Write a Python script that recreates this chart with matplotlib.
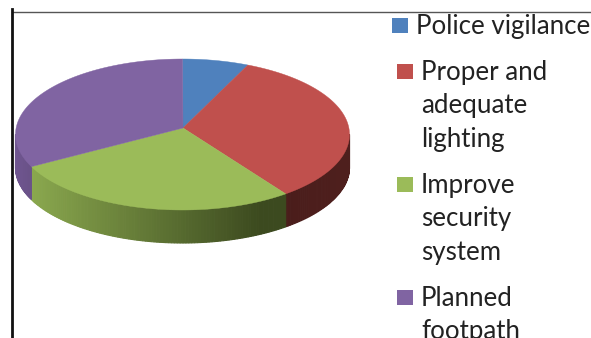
"""3D style pie chart with a hand placed legend."""
import matplotlib
matplotlib.use("Agg")
import matplotlib.pyplot as plt
import numpy as np
from matplotlib.patches import Rectangle

labels = ["Police vigilance", "Proper and\nadequate\nlighting", "Improve\nsecurity\nsystem", "Planned\nfootpath"]
values = [6.4, 33.0, 28.6, 32.0]
top_colors = ["#4f81bd", "#c0504d", "#9bbb59", "#8064a2"]
side_left = ["#4f81bd", "#4a1d1b", "#8aa84e", "#6f5590"]
side_right = ["#4f81bd", "#4e1f1d", "#3c4a1f", "#6a5288"]

CX, CY = 182.5, 134.5
RX, RY = 167, 75.5
APEX = (183, 128)
DEPTH = 33


def rim(angle):
    """Point on the top ellipse, angle is clockwise from 12 o'clock in degrees."""
    a = np.radians(angle)
    return CX + RX * np.sin(a), CY - RY * np.cos(a)


def mix(c1, c2, t):
    rgb1 = np.array(matplotlib.colors.to_rgb(c1))
    rgb2 = np.array(matplotlib.colors.to_rgb(c2))
    return rgb1 + (rgb2 - rgb1) * t


fig = plt.figure(figsize=(5.91, 3.38), dpi=100)
ax = fig.add_axes([0, 0, 1, 1])
ax.set_xlim(0, 591)
ax.set_ylim(338, 0)
ax.axis("off")

# frame lines of the cropped chart area
ax.plot([11.5, 591], [11.5, 11.5], color="#555555", lw=1.0)
ax.plot([11.5, 11.5], [9, 338], color="#111111", lw=2.0)

edges = np.concatenate([[0], np.cumsum(values)]) / sum(values) * 360

# rim first, split in thin strips so the shading runs along the side
for i in range(len(values)):
    start, end = max(edges[i], 90), min(edges[i + 1], 270)
    if end <= start:
        continue
    steps = np.linspace(start, end, int(end - start) + 2)
    xs = rim(steps)[0]
    # the green side reaches its darkest tone a little before the right end
    x_lo, x_hi = xs.min(), xs.min() + (xs.max() - xs.min()) * 0.9
    for a, b in zip(steps[:-1], steps[1:]):
        xa, ya = rim(a)
        xb, yb = rim(b)
        t = np.clip((xa - x_lo) / (x_hi - x_lo), 0, 1)
        c = mix(side_left[i], side_right[i], t)
        ax.fill([xa, xb, xb, xa], [ya, yb, yb + DEPTH, ya + DEPTH], facecolor=c, edgecolor=c, lw=0.8)

# top face
for i in range(len(values)):
    angles = np.linspace(edges[i], edges[i + 1], 120)
    xs, ys = rim(angles)
    ax.fill(np.r_[APEX[0], xs], np.r_[APEX[1], ys], color=top_colors[i], lw=0.3)

# legend, drawn by hand because the rows are not aligned in the original
swatch_x = [392, 397, 397, 397]
swatch_y = [18, 64, 177, 290]
text_x = [416, 421, 421, 421]
for i, label in enumerate(labels):
    ax.add_patch(Rectangle((swatch_x[i], swatch_y[i]), 16, 15, color=top_colors[i], lw=0))
    ax.text(text_x[i], swatch_y[i] - 4, label, family="Lato", fontsize=18.6, color="#222222",
            va="top", ha="left", linespacing=1.42, clip_on=True)

fig.savefig("out.png", dpi=100)
